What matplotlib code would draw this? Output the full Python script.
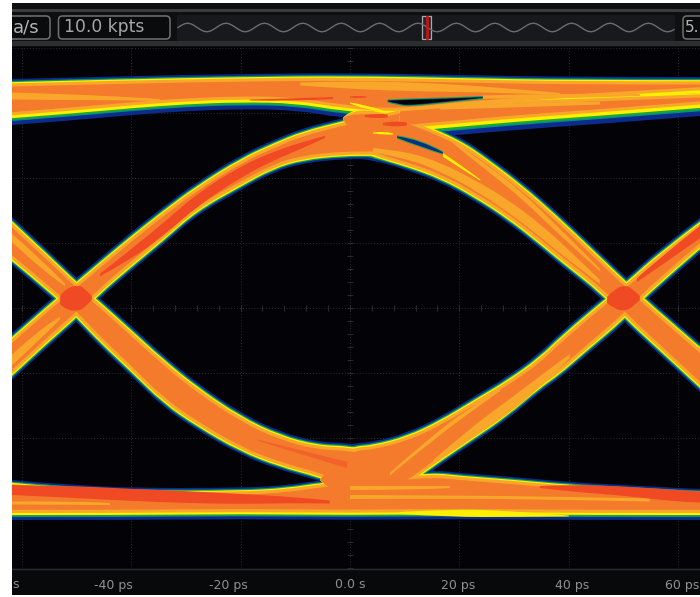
import numpy as np
import matplotlib
matplotlib.use("Agg")
import matplotlib.pyplot as plt
from matplotlib.patches import FancyBboxPatch, Rectangle, PathPatch
from matplotlib.path import Path

# ---- axis texts
tick_labels = ["s", "-40 ps", "-20 ps", "0.0 s", "20 ps", "40 ps", "60 ps"]
toolbar_labels = ["a/s", "10.0 kpts", "5."]

# ---- eye outline, time in ps, amplitude in mV
top_rail_up_t = [-61.8, -40, -20, 0, 20, 40, 64]
top_rail_up_v = [229, 232, 234, 235, 233, 231, 231]
top_rail_lo_t = [-61.8, -50, -40, -30, -20, -10, -1.3, 9, 24, 64]
top_rail_lo_v = [183, 188, 193, 197, 199, 198, 190, 186, 196, 208]

rise_a_t = [-61.8, -54.5, -50, -45.7, -40.2, -34.2, -28, -20, -14, -8.6, -1.3, 4, 9]
rise_a_up = [-25, 10, 30, 50, 75, 101, 126, 153, 168, 180, 190, 196, 202]
rise_a_lo = [-72, -35, -14, 10, 36, 63, 93, 118, 136, 145, 149, 149, 149]

fall_a_t = [-61.8, -54.5, -50, -45.7, -40.2, -34.2, -28, -20, -12.8, -6, 0, 4.2, 9]
fall_a_up = [91, 54, 30, 10, -17, -47, -75, -105, -124, -134, -135, -140, -162]
fall_a_lo = [43, 10, -14, -39, -67, -99, -122, -147, -162, -172, -184, -190, -197]

fall_b_up_t = [-1.3, 1, 9.1, 19.7, 25.6, 31.6, 37.5, 43.9, 50.6, 54.5, 64]
fall_b_up_v = [190, 207, 196, 173, 151, 126, 98, 65, 30, 10, -35]
fall_b_lo_t = [-1.3, 0.5, 4.2, 10.4, 16.5, 22.5, 28.7, 34.7, 38.4, 46, 50.3, 56.7, 64]
fall_b_lo_v = [190, 149.5, 148, 138, 126, 108, 86, 60, 43, 10, -15, -47, -84]

rise_top_up_t = [9.1, 24.3, 40, 64]
rise_top_up_v = [204, 211, 213, 218]
rise_top_lo_t = [9.1, 19.7, 30, 40, 50, 64]
rise_top_lo_v = [168, 173, 178, 182, 186, 192]

rise_b_up_t = [-5.5, -3, 1, 4.2, 10.4, 16.5, 22.5, 28.7, 34.7, 38.4, 46, 50.6, 56.7, 64]
rise_b_up_v = [-172, -140, -135, -134, -125, -109, -89, -69, -45, -25, 10, 30, 60, 90]
rise_b_lo_t = [-5.5, 0, 9.1, 15.2, 22.5, 28.7, 34.7, 38.4, 42.6, 50.3, 54.5, 64]
rise_b_lo_v = [-172, -207, -187, -162, -135, -112, -84, -70, -50, -15, 10, 55]

bot_rail_up_t = [-61.8, -58, -50, -40, -20, -11, -5.5, 5.5, 15.2, 20, 30, 39.8, 50, 60, 64]
bot_rail_up_v = [-172, -174, -177, -180, -180, -177, -172, -167, -162, -165, -169, -174, -177, -180, -181]
bot_rail_lo_t = [-61.8, -40, -20, 0, 20, 40, 64]
bot_rail_lo_v = [-212, -212, -211, -212, -211, -212, -212]

# ---- density streaks: time, centre, width
light_streaks = [
    ([-61.8, -53, -43.9, -34.7], [212, 211, 210, 208], [7, 6, 4, 2]),
    ([-9.1, 0, 12.8, 27.4, 38.4], [224, 223, 221, 218, 214], [3, 8, 9, 5, 2]),
    ([23.9, 38.4, 53], [211, 212, 213], [3, 6, 2]),
    ([16.5, 31.1, 45.7], [200, 203, 205], [3, 5, 3]),
    ([4.2, 10.4, 16.5, 22.5, 28.7, 34.7, 40.2, 45.7], [158, 153, 141, 124, 103, 78, 52, 26], [4, 7, 8, 9, 10, 10, 8, 3]),
    ([18.8, 25.6, 31.6, 38.4, 45.7], [166, 138, 112, 76, 38], [2, 5, 5, 5, 2]),
    ([-61.8, -56.7, -52.1], [70, 45, 23], [6, 8, 2]),
    ([-61.8, -55.8, -53], [-52, -22, -10], [8, 8, 2]),
    ([15.2, 21.9, 28.7, 34.7, 40.2], [-154, -126, -100, -74, -48], [3, 9, 11, 9, 3]),
    ([7.3, 14.6, 21.9, 27.4], [-166, -132, -102, -82], [2, 4, 4, 2]),
    ([-61.8, -50, -43.9], [-195, -195, -196], [3, 4, 2]),
    ([0, 18.3, 36.6, 54.8], [-189, -189, -190, -192], [4, 3, 3, 3]),
    ([0, 12.8, 18.3], [-180, -180, -179], [4, 4, 2]),
]
warm_streaks = [
    ([-17, -9.1, -0.5], [-132, -144, -157], [1, 4, 6]),
]
red_streaks = [
    ([-45.7, -40.2, -33.8, -28, -20.1, -14, -8.6, -4.6], [33, 53, 80, 108, 136, 152, 163, 171], [2, 8, 10, 10, 10, 8, 6, 2]),
    ([52.5, 56.7, 64], [28, 46, 76], [3, 7, 10]),
    ([-18.3, -11, -3.1], [208, 208, 210], [1, 3, 2]),
    ([-53, -51.9, -49.4, -48.3, -47.2], [8, 9, 10, 10, 10], [8, 22, 26, 16, 4]),
    ([47, 48.4, 50.3, 51.7, 53], [8, 9, 10, 10, 10], [6, 20, 26, 18, 4]),
    ([2.7, 4.9, 6.9], [192, 192, 192], [2, 6, 3]),
    ([6, 8.2, 10.4], [184, 184, 184], [2, 7, 3]),
    ([0, 1.6, 3], [211, 211, 211], [1, 3, 1]),
    ([-61.8, -50, -40, -30, -20, -10, -3.7], [-182, -184, -187, -189, -191, -192, -194], [10, 12, 12, 12, 10, 6, 3]),
    ([34.7, 40, 50, 60, 64], [-179, -180, -183, -188, -189], [2, 7, 9, 12, 11]),
]
yellow_streaks = [
    ([9.1, 18.3, 30, 40], [-205, -205, -206, -208], [2, 8, 6, 1]),
    ([0, 2.7, 6], [205, 201, 197], [1, 5, 1]),
    ([4.2, 6.4, 7.9], [175, 175, 174], [1, 4, 1]),
    ([17, 20.1, 23.8], [153, 142, 128], [3, 3, 1]),
]

# ---- slots in the density near the upper crossing
slot_a_t = [6.9, 9.1, 11, 18.3, 24.3]
slot_a_up = [207, 207.5, 208, 209, 210.5]
slot_a_lo = [207, 204, 203, 207, 210.5]
slot_b_t = [8.6, 12.8, 17]
slot_b_up = [171, 168, 155]
slot_b_lo = [171, 162, 155]

# one period of the overview trace in the toolbar
overview_period = [0, -2.1, -3.7, -4.3, -3.7, -2.1, 0, 2.1, 3.7, 4.3, 3.7, 2.1]

# ---- styles
PX_PER_PS = 5.47
BLACK = "#030307"
FRINGE_END = 4.4
LAYERS = [("#0b2c8c", 0.0), ("#0a8a86", 1.8), ("#17a83a", 2.3), ("#fff000", 3.1),
          ("#f8a72b", 4.4), ("#f47b2b", 7.5)]
LIGHT, WARM, RED, YELLOW = "#f8a72b", "#f2622a", "#ef4a23", "#fff000"


def perp(t, v):
    t, v = np.asarray(t, float), np.asarray(v, float)
    return np.sqrt(1 + np.gradient(v, t * PX_PER_PS) ** 2)


def edge(pts, first):
    verts, codes = [pts[0]], [first]
    n = len(pts)
    for i in range(1, n - 1):
        end = pts[i + 1] if i == n - 2 else 0.5 * (pts[i] + pts[i + 1])
        verts += [pts[i], end]
        codes += [Path.CURVE3, Path.CURVE3]
    if n == 2:
        verts.append(pts[1])
        codes.append(Path.LINETO)
    return verts, codes


def smooth_patch(target, tu, up, tl, lo, colour, z):
    a = np.column_stack([tu, up])
    b = np.column_stack([tl, lo])[::-1]
    v1, c1 = edge(a, Path.MOVETO)
    v2, c2 = edge(b, Path.LINETO)
    verts = v1 + v2 + [a[0]]
    codes = c1 + c2 + [Path.CLOSEPOLY]
    target.add_patch(PathPatch(Path(verts, codes), fc=colour, ec="none", lw=0, zorder=z))


bands = [
    (top_rail_up_t, top_rail_up_v, top_rail_lo_t, top_rail_lo_v, 1.0, 2.2),
    (rise_a_t, rise_a_up, rise_a_t, rise_a_lo, 1.0, 1.0),
    (fall_a_t, fall_a_up, fall_a_t, fall_a_lo, 1.0, 1.0),
    (fall_b_up_t, fall_b_up_v, fall_b_lo_t, fall_b_lo_v, 1.0, 1.0),
    (rise_top_up_t, rise_top_up_v, rise_top_lo_t, rise_top_lo_v, 1.0, 2.6),
    (rise_b_up_t, rise_b_up_v, rise_b_lo_t, rise_b_lo_v, 1.0, 1.0),
    (bot_rail_up_t, bot_rail_up_v, bot_rail_lo_t, bot_rail_lo_v, 0.9, 1.6),
]

fig = plt.figure(figsize=(7.0, 5.97), dpi=100, facecolor="white")
W, H = 700.0, 597.0

# ---- instrument frame (pixel space)
frame = fig.add_axes([0, 0, 1, 1])
frame.set_xlim(0, W)
frame.set_ylim(H, 0)
frame.axis("off")
frame.add_patch(Rectangle((12, 3), 688, 44, fc="#0e0f11", lw=0))
frame.add_patch(Rectangle((12, 9), 688, 3, fc="#3b3c3e", lw=0))
frame.add_patch(Rectangle((12, 41), 688, 5, fc="#2c2d2f", lw=0))
frame.add_patch(Rectangle((177, 15), 498, 26, fc="#17191c", lw=0))
frame.add_patch(Rectangle((12, 568), 688, 27, fc="#08090b", lw=0))
frame.plot([12, 700], [569, 569], color="#2a2b2d", lw=1)
for x0, x1 in [(-6, 50), (58.5, 170), (683, 720)]:
    frame.add_patch(FancyBboxPatch((x0 + 3, 19), x1 - x0 - 6, 17,
                                   boxstyle="round,pad=3,rounding_size=4",
                                   fc="#0a0b0d", ec="#6f7173", lw=1.1))
frame.add_patch(Rectangle((0, 0), 12, H, fc="white", lw=0, zorder=3))
frame.text(13, 27, toolbar_labels[0], color="#b4b4b4", fontsize=13, ha="left", va="center", zorder=4)
frame.text(64, 27, toolbar_labels[1], color="#a6a6a6", fontsize=12.3, ha="left", va="center")
frame.text(685, 27, toolbar_labels[2], color="#b4b4b4", fontsize=11, ha="left", va="center")
wave = np.tile(overview_period, 13)
wave_x = np.linspace(178, 674, wave.size)
frame.plot(wave_x, 27.5 + wave, color="#6a6c6e", lw=1)
frame.add_patch(Rectangle((422, 16), 9, 23, fc="#26282b", ec="#a8aaac", lw=0.9))
frame.plot([426.5, 426.5], [17, 38], color="#c2161c", lw=2)
for label, xc in zip(tick_labels[:-1], [16, 113, 228, 350, 458, 572]):
    frame.text(xc, 585, label, color="#8f9092", fontsize=9, ha="center", va="center", clip_on=True)
frame.text(699.5, 585, tick_labels[-1], color="#8f9092", fontsize=9, ha="right", va="center")

# ---- scope display
ax = fig.add_axes([12 / W, 1 - 568 / H, 688 / W, 521 / H], facecolor=BLACK)
ax.set_xlim(-61.8, 64)
ax.set_ylim(-260, 261)
ax.set_xticks(np.arange(-60, 61, 20))
ax.set_yticks(np.arange(-260, 261, 65))
ax.tick_params(length=0, labelbottom=False, labelleft=False)
ax.grid(True, color="#2a2c30", lw=0.7, ls=(0, (1, 2)))
ax.set_axisbelow(True)
for s in ax.spines.values():
    s.set_visible(False)
ax.plot(np.arange(-60, 61, 4), np.zeros(31), ls="none", marker="|", ms=4, mew=0.6, color="#2f3236", zorder=1)
ax.plot(np.zeros(41), np.arange(-260, 261, 13), ls="none", marker="_", ms=4, mew=0.6, color="#2f3236", zorder=1)

z = 2
for colour, d in LAYERS:
    for tu, vu, tl, vl, su, sl in bands:
        tu_, vu_, tl_, vl_ = map(lambda a: np.asarray(a, float), (tu, vu, tl, vl))
        du = su * min(d, FRINGE_END) + max(d - FRINGE_END, 0)
        dl = sl * min(d, FRINGE_END) + max(d - FRINGE_END, 0)
        up = vu_ - du * perp(tu_, vu_)
        lo = vl_ + dl * perp(tl_, vl_)
        if vu_[0] == vl_[0]:  # pointed tip where a band leaves a rail
            up[0] = lo[0] = vu_[0]
        smooth_patch(ax, tu_, up, tl_, lo, colour, z)
    z += 1

for group, colour in [(light_streaks, LIGHT), (warm_streaks, WARM), (red_streaks, RED), (yellow_streaks, YELLOW)]:
    for t, c, w in group:
        t_, c_, w_ = np.asarray(t, float), np.asarray(c, float), np.asarray(w, float)
        half = 0.5 * w_ * perp(t_, c_)
        smooth_patch(ax, t_, c_ + half, t_, c_ - half, colour, z)
    z += 1

for t, u, l, core in [(slot_a_t, slot_a_up, slot_a_lo, BLACK), (slot_b_t, slot_b_up, slot_b_lo, "#0b2c8c")]:
    t_, u_, l_ = np.asarray(t, float), np.asarray(u, float), np.asarray(l, float)
    m = 0.5 * (u_ + l_)
    smooth_patch(ax, t_, u_ + 1.6, t_, l_ - 1.6, "#17a83a", z)
    smooth_patch(ax, t_, u_ + 0.6, t_, l_ - 0.6, "#0b2c8c", z + 1)
    smooth_patch(ax, t_, m + 0.5 * (u_ - l_), t_, m - 0.5 * (u_ - l_), core, z + 2)

fig.savefig("out.png", dpi=100, facecolor="white")
